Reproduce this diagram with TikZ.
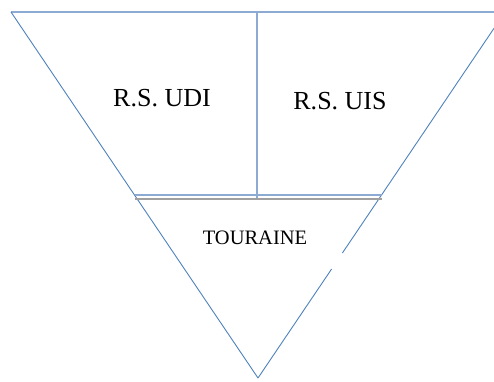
\documentclass[tikz,border=0pt]{standalone}
\usepackage{fontspec}
\setmainfont{Liberation Serif}
\usepackage{tikz}
\definecolor{bleu}{RGB}{79,129,189}
\definecolor{bleuclair}{RGB}{140,170,210}
\definecolor{grisligne}{RGB}{160,160,160}

\begin{document}
\begin{tikzpicture}[x=1pt,y=-1pt]
\tikzstyle{bord}=[draw=bleu,line width=0.9pt]
\tikzset{etiquette/.style={inner sep=0pt,font=\fontsize{#1}{#1}\selectfont},
etiquette/.default={26}}
\useasboundingbox (0,0) rectangle (494,381);
\clip (0,0) rectangle (494,381);

\coordinate (G) at (11,12);\coordinate (D) at (505,12);
\coordinate (S) at (258,378);
\coordinate (H) at (257,12);\coordinate (M) at (257,199);
\coordinate (C1) at (342.4,253);\coordinate (C2) at (331.6,269);
\coordinate (B1) at (134.5,195);\coordinate (B2) at (381.5,195);
\coordinate (T1) at (135,199);\coordinate (T2) at (382,199);

\node[etiquette] (udi) at (162,98) {R.S. UDI};
\node[etiquette] (uis) at (340,101) {R.S. UIS};
\node[etiquette=20.5] (tou) at (255,238) {TOURAINE};

\draw[bleuclair,line width=1.5pt] (G) -- (D);
\draw[bleuclair,line width=2pt] (H) -- (M);
\draw[bord] (G) -- (S);
\draw[bord] (S) -- (C2);
\draw[bord] (C1) -- (D);
\draw[bleuclair,line width=1.5pt] (B1) -- (B2);
\draw[grisligne,line width=1.2pt] (T1) -- (T2);

\end{tikzpicture}
\end{document}
